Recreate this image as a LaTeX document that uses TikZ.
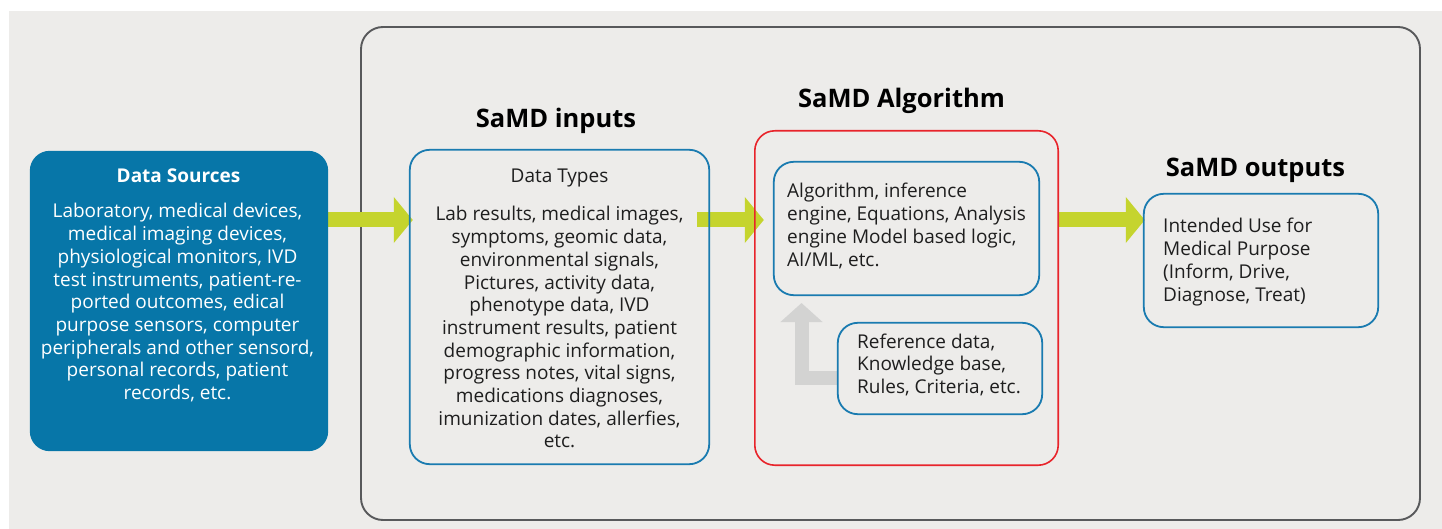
\documentclass[tikz,border=0pt]{standalone}
\usepackage{fontspec}
\setmainfont{Open Sans}
\usetikzlibrary{arrows.meta}

\definecolor{panelbg}{HTML}{EDECEA}
\definecolor{framegray}{HTML}{58595B}
\definecolor{srcblue}{HTML}{0776A8}
\definecolor{edgeblue}{HTML}{1A7BB0}
\definecolor{algred}{HTML}{E8242B}
\definecolor{lime}{HTML}{C5D42E}
\definecolor{feedgray}{HTML}{D3D3D2}
\definecolor{ink}{HTML}{1E1E1E}

% multi-line text whose baseline is that of its first line
\newcommand\stack[2]{\begin{tabular}[t]{@{}#1@{}}#2\end{tabular}}

\begin{document}
\begin{tikzpicture}[x=1pt,y=-1pt,
  shell/.style={draw=framegray, line width=1.9pt, rounded corners=22pt, inner sep=0pt},
  infobox/.style={draw=edgeblue, line width=1.8pt, rounded corners=20pt, inner sep=0pt},
  algbox/.style={draw=algred, line width=1.6pt, rounded corners=20pt, inner sep=0pt},
  srcbox/.style={fill=srcblue, rounded corners=20pt, inner sep=0pt},
  body/.style={font=\fontsize{19}{22.7}\selectfont, text=ink, inner sep=0pt},
  heading/.style={font=\fontsize{25.5}{30}\selectfont\bfseries, text=black, inner sep=0pt},
  flow/.style={draw=lime, line width=15pt, -{Triangle[length=19pt,width=45pt]}},
  feedback/.style={draw=feedgray, line width=14pt, line join=miter, -{Triangle[length=19pt,width=41pt]}},
]
% canvas
\useasboundingbox (0,0) rectangle (1442,529);
\fill[white] (0,0) rectangle (1442,529);
\fill[panelbg] (9,11) rectangle (1442,529);

% levels used by the connectors
\coordinate (flowrow) at (0,220);
\coordinate (feedrow) at (0,377.5);
\coordinate (feedtip) at (801.5,303);

% boxes (placed first so connectors can refer to them)
\node[shell, minimum width=1059pt, minimum height=493pt] (sys) at (890.5,273.5) {};
\node[minimum width=298pt, minimum height=300pt, inner sep=0pt] (ds) at (179,301) {};
\node[minimum width=299pt, minimum height=314pt, inner sep=0pt] (dt) at (559.5,307) {};
\node[minimum width=303pt, minimum height=334pt, inner sep=0pt] (alg) at (906.5,298) {};
\node[minimum width=265pt, minimum height=133pt, inner sep=0pt] (eng) at (906.5,228.5) {};
\node[minimum width=204pt, minimum height=91pt, inner sep=0pt] (ref) at (940,368.5) {};
\node[minimum width=234pt, minimum height=133pt, inner sep=0pt] (out) at (1261,260.5) {};

% connectors
\draw[flow, shorten <=-1pt, shorten >=-3pt] (ds.east |- flowrow) -- (dt.west |- flowrow);
\draw[flow, shorten <=-12pt, shorten >=-9pt] (dt.east |- flowrow) -- (alg.west |- flowrow);
\draw[flow, shorten >=-1pt] (alg.east |- flowrow) -- (out.west |- flowrow);
\draw[feedback] (ref.west |- feedrow) -| (feedtip);

% box outlines
\fill[srcbox] (ds.south west) rectangle (ds.north east);
\draw[infobox] (dt.south west) rectangle (dt.north east);
\draw[algbox] (alg.south west) rectangle (alg.north east);
\draw[infobox] (eng.south west) rectangle (eng.north east);
\draw[infobox] (ref.south west) rectangle (ref.north east);
\draw[infobox] (out.south west) rectangle (out.north east);

% headings
\node[heading, anchor=base] (hin) at (556,128) {SaMD inputs};
\node[heading, anchor=base] (halg) at (901.5,108) {SaMD Algorithm};
\node[heading, anchor=base] (hout) at (1255.5,177) {SaMD outputs};

% data sources
\node[inner sep=0pt, anchor=base, text=white, font=\fontsize{19}{22}\selectfont\bfseries] (dstitle) at (178.5,183) {Data Sources};
\node[body, text=white, anchor=base] (dstext) at (177.5,218) {\stack{c}{%
Laboratory, medical devices,\\
medical imaging devices,\\
physiological monitors, IVD\\
test instruments, patient-re-\\
ported outcomes, edical\\
purpose sensors, computer\\
peripherals and other sensord,\\
personal records, patient\\
records, etc.}};

% data types
\node[body, anchor=base] (dttitle) at (559.5,183) {Data Types};
\node[body, anchor=base] (dttext) at (559.5,221) {\stack{c}{%
Lab results, medical images,\\
symptoms, geomic data,\\
environmental signals,\\
Pictures, activity data,\\
phenotype data, IVD\\
instrument results, patient\\
demographic information,\\
progress notes, vital signs,\\
medications diagnoses,\\
imunization dates, allerfies,\\
etc.}};

% algorithm
\node[body, anchor=base west] (engtext) at (787,198) {\stack{l}{%
Algorithm, inference\\
engine, Equations, Analysis\\
engine Model based logic,\\
AI/ML, etc.}};
\node[body, anchor=base west] (reftext) at (857,348) {\stack{l}{%
Reference data,\\
Knowledge base,\\
Rules, Criteria, etc.}};

% outputs
\node[body, anchor=base west] (outtext) at (1163,233) {\stack{l}{%
Intended Use for\\
Medical Purpose\\
(Inform, Drive,\\
Diagnose, Treat)}};
\end{tikzpicture}
\end{document}
